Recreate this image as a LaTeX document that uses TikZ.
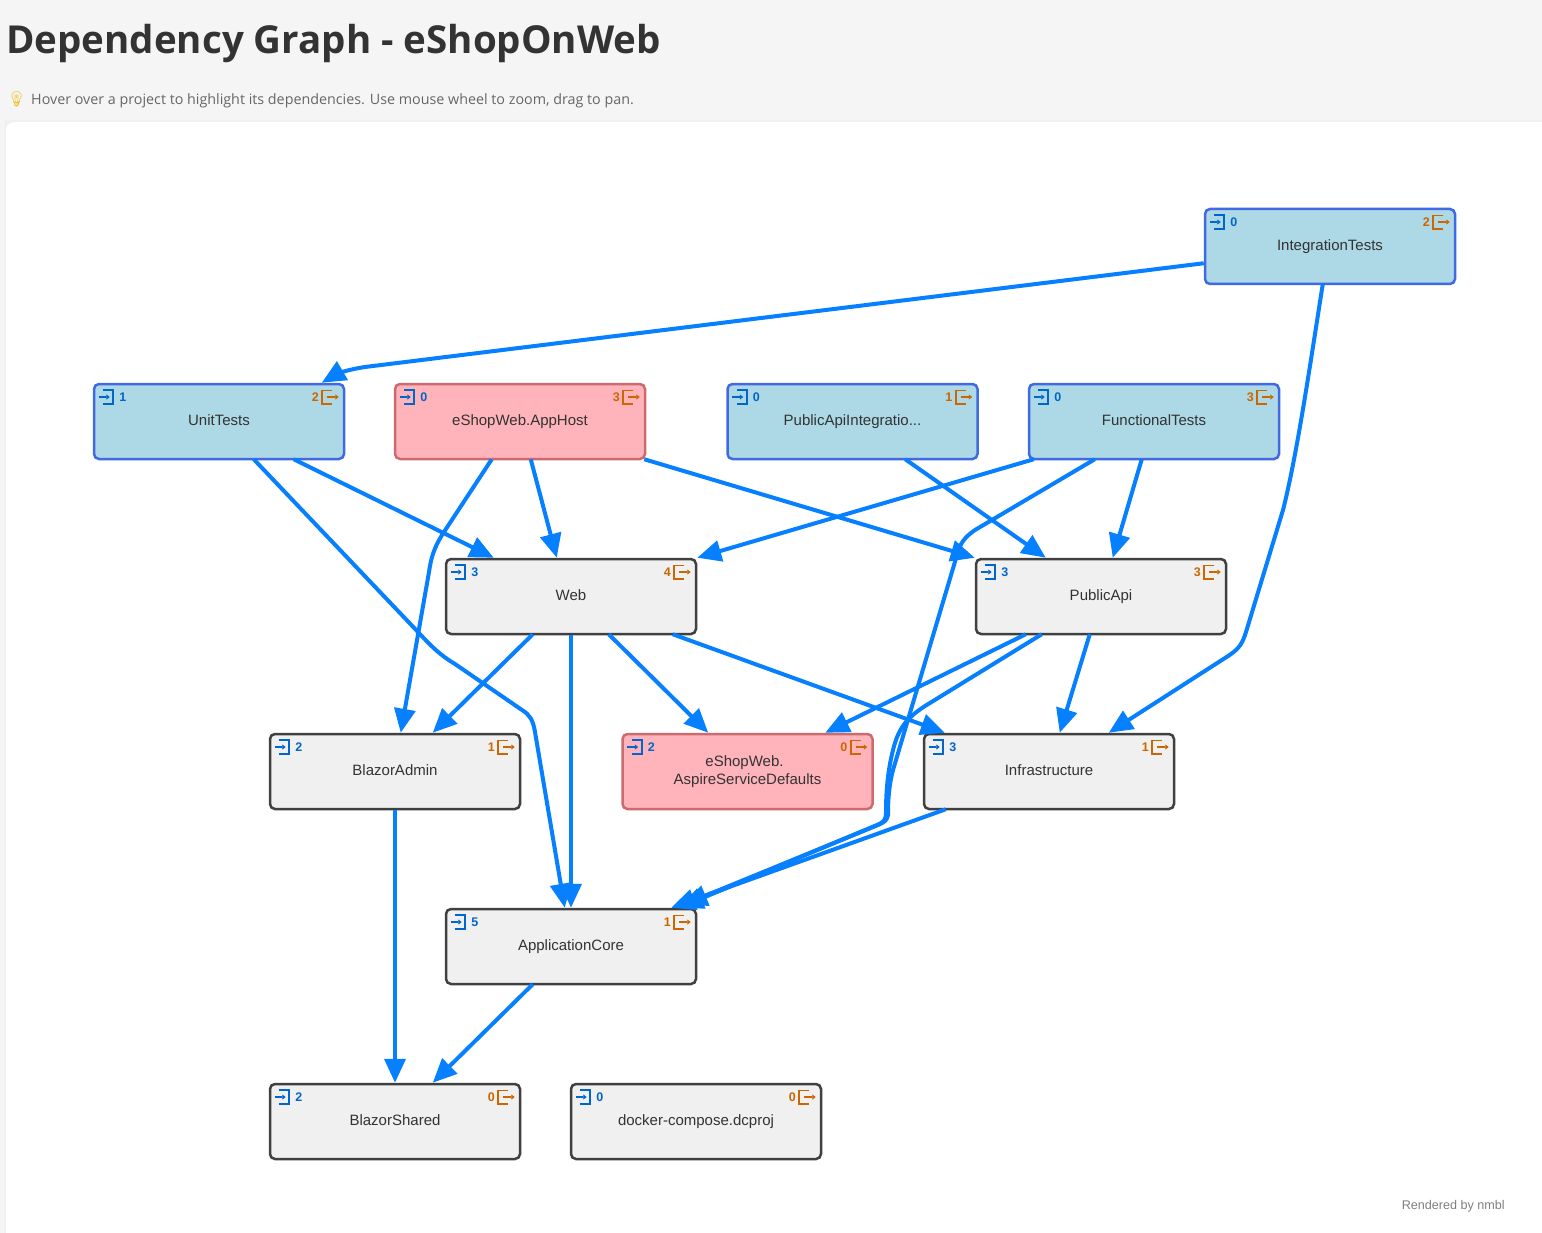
\documentclass[tikz,border=0pt]{standalone}
\usepackage{fontspec}
\setmainfont{Liberation Sans}
\newfontfamily\headfont{Open Sans}
\newfontfamily\emojifont{Noto Emoji}
\usetikzlibrary{arrows.meta,calc}
\definecolor{pagebg}{HTML}{F5F5F5}
\definecolor{edgeblue}{HTML}{0780FF}
\definecolor{inblue}{HTML}{0066CC}
\definecolor{outorange}{HTML}{CC6600}
\definecolor{txt}{HTML}{333333}
\definecolor{subtxt}{HTML}{666666}
\definecolor{bulbyellow}{HTML}{F2B90F}
\tikzset{
  x=1pt,y=-1pt,
  proj/.style={rounded corners=5pt,minimum width=250pt,minimum height=75pt,inner sep=0pt,align=center,
     font=\fontsize{15}{18}\selectfont,text=txt,line width=2.5pt},
  testproj/.style={proj,fill=lightb,draw=royal},
  hostproj/.style={proj,fill=pinkb,draw=pinkd},
  libproj/.style={proj,fill=greyb,draw=greyd},
  countin/.style={font=\fontsize{12.5}{14}\selectfont\bfseries,text=inblue,inner sep=0pt},
  countout/.style={font=\fontsize{12.5}{14}\selectfont\bfseries,text=outorange,inner sep=0pt},
  dep/.style={draw=edgeblue,line width=4pt,-{Triangle[length=24pt,width=21pt]},line join=round},
  iconin/.style={draw=inblue,line width=1.8pt},
  iconout/.style={draw=outorange,line width=1.8pt},
}
\definecolor{lightb}{HTML}{ADD8E6}
\definecolor{royal}{HTML}{4169E1}
\definecolor{pinkb}{HTML}{FFB3BA}
\definecolor{pinkd}{HTML}{CD6A70}
\definecolor{greyb}{HTML}{F0F0F0}
\definecolor{greyd}{HTML}{404040}
\newcommand{\lstrut}{\rule[-3pt]{0pt}{13pt}}
% \project{name}{cx}{cy}{style}{text}{in}{out}
\newcommand{\project}[7]{%
  \node[#4] (#1) at (#2,#3) {\lstrut#5\lstrut};
  \node[countin] (#1-in) at ($(#1.north west)+(30,14.5)$) {#6};
  \node[countout] (#1-out) at ($(#1.north east)+(-30,14.5)$) {#7};
  \begin{scope}[shift={(#1.north west)}]
    \draw[iconin] (10.5,7.5) -- (20.5,7.5) -- (20.5,21) -- (10.5,21);
    \draw[iconin,-{Triangle[length=3.5pt,width=5pt]}] (6,14.3) -- (17,14.3);
  \end{scope}
  \begin{scope}[shift={(#1.north east)}]
    \draw[iconout] (-13,7.7) -- (-23,7.7) -- (-23,21) -- (-13,21);
    \draw[iconout,-{Triangle[length=3.5pt,width=5pt]}] (-18,14.3) -- (-6.5,14.3);
  \end{scope}
}
\begin{document}
\begin{tikzpicture}
\useasboundingbox (0,0) rectangle (1542,1233);
\fill[pagebg] (0,0) rectangle (1542,1233);
\fill[black!6] (4.5,120.5) [rounded corners=8pt] -- (1560,120.5) -- (1560,1250) -- (4.5,1250) [sharp corners] -- cycle;
\fill[white,rounded corners=8pt] (6,122) rectangle (1570,1260);
\node[anchor=base west,inner sep=0pt,font=\headfont\fontsize{38.5}{44}\selectfont\bfseries,text=txt] (title) at (6,54) {Dependency Graph - eShopOnWeb};
\node[anchor=base west,inner sep=0pt,font=\emojifont\fontsize{15}{17}\selectfont\bfseries,text=bulbyellow] (bulb) at (7,105) {💡};
\node[anchor=base west,inner sep=0pt,font=\headfont\fontsize{14.3}{16}\selectfont,text=subtxt] (subtitle) at (31,104.5) {Hover over a project to highlight its dependencies. Use mouse wheel to zoom, drag to pan.};
\node[anchor=base east,inner sep=0pt,font=\fontsize{12.6}{14}\selectfont,text=black!50] (credit) at (1505,1209) {Rendered by nmbl};

\project{it}{1330}{246.5}{testproj}{IntegrationTests}{0}{2}
\project{ut}{219}{421.5}{testproj}{UnitTests}{1}{2}
\project{ah}{520}{421.5}{hostproj}{eShopWeb.AppHost}{0}{3}
\project{pai}{852.5}{421.5}{testproj}{PublicApiIntegratio...}{0}{1}
\project{ft}{1154}{421.5}{testproj}{FunctionalTests}{0}{3}
\project{web}{571}{596.5}{libproj}{Web}{3}{4}
\project{pa}{1101}{596.5}{libproj}{PublicApi}{3}{3}
\project{ba}{395}{771.5}{libproj}{BlazorAdmin}{2}{1}
\project{asd}{747.5}{771.5}{hostproj}{eShopWeb.\hspace*{6pt}\\AspireServiceDefaults}{2}{0}
\project{inf}{1049}{771.5}{libproj}{Infrastructure}{3}{1}
\project{ac}{571}{946.5}{libproj}{ApplicationCore}{5}{1}
\project{bs}{395}{1121.5}{libproj}{BlazorShared}{2}{0}
\project{dc}{696}{1121.5}{libproj}{docker-compose.dcproj}{0}{0}

% offsets are from the node's west edge on its bottom/top side
\draw[dep] ($(it.south west)+(0,-22)$) -- (365,367) .. controls (345,370) and (335,375) .. ($(ut.north west)+(229,0)$);
\draw[dep] ($(it.south west)+(119,-1)$) .. controls (1310,365) and (1297,455) .. (1283,510) -- (1246,632) .. controls (1242,645) and (1238,650) .. (1225,658) -- ($(inf.north west)+(186,0)$);
\draw[dep] ($(ut.south west)+(201,-1)$) -- ($(web.north west)+(49,0)$);
\draw[dep] ($(ut.south west)+(161,-1)$) -- (418,632) .. controls (432,647) and (440,655) .. (455,664) -- (522,710) .. controls (530,715) and (533,720) .. (535,732) -- ($(ac.north west)+(120,0)$);
\draw[dep] ($(ah.south west)+(137,-1)$) -- ($(web.north west)+(112,0)$);
\draw[dep] ($(ah.south west)+(98,-1)$) -- (442,535) .. controls (434,548) and (431,558) .. (429,572) -- ($(ba.north west)+(132,0)$);
\draw[dep] ($(ah.south east)+(-2,-1)$) -- (pa.north west);
\draw[dep] ($(pai.south west)+(179,-1)$) -- ($(pa.north west)+(71,0)$);
\draw[dep] ($(ft.south west)+(6,-1)$) -- (web.north east);
\draw[dep] ($(ft.south west)+(67,-1)$) -- (975,530) .. controls (965,537) and (960,543) .. (957,555) -- (893,770) .. controls (889,785) and (888,800) .. (888,815) .. controls (887,820) and (885,822) .. (878,825) -- ($(ac.north east)+(-14,-3)$);
\draw[dep] ($(ft.south west)+(114,-1)$) -- ($(pa.north west)+(138,0)$);
\draw[dep] ($(web.south west)+(88,-1)$) -- ($(ba.north west)+(164,0)$);
\draw[dep] (web.south) -- (ac.north);
\draw[dep] ($(web.south west)+(164,-1)$) -- ($(asd.north west)+(87,0)$);
\draw[dep] ($(web.south west)+(228,-1)$) -- ($(inf.north west)+(22,0)$);
\draw[dep] ($(pa.south west)+(51,-1)$) -- ($(asd.north west)+(204,0)$);
\draw[dep] ($(pa.south west)+(115,-1)$) -- ($(inf.north west)+(137,0)$);
\draw[dep] ($(pa.south west)+(67,-1)$) -- (925,706) .. controls (905,719) and (898,730) .. (893,750) .. controls (888,770) and (886,790) .. (886,812) .. controls (886,820) and (884,822) .. (877,825) -- ($(ac.north east)+(-18,0)$);
\draw[dep] ($(inf.south west)+(23,-1)$) -- ($(ac.north east)+(-26,0)$);
\draw[dep] (ba.south) -- (bs.north);
\draw[dep] ($(ac.south west)+(88,-1)$) -- ($(bs.north west)+(164,0)$);
\end{tikzpicture}
\end{document}
